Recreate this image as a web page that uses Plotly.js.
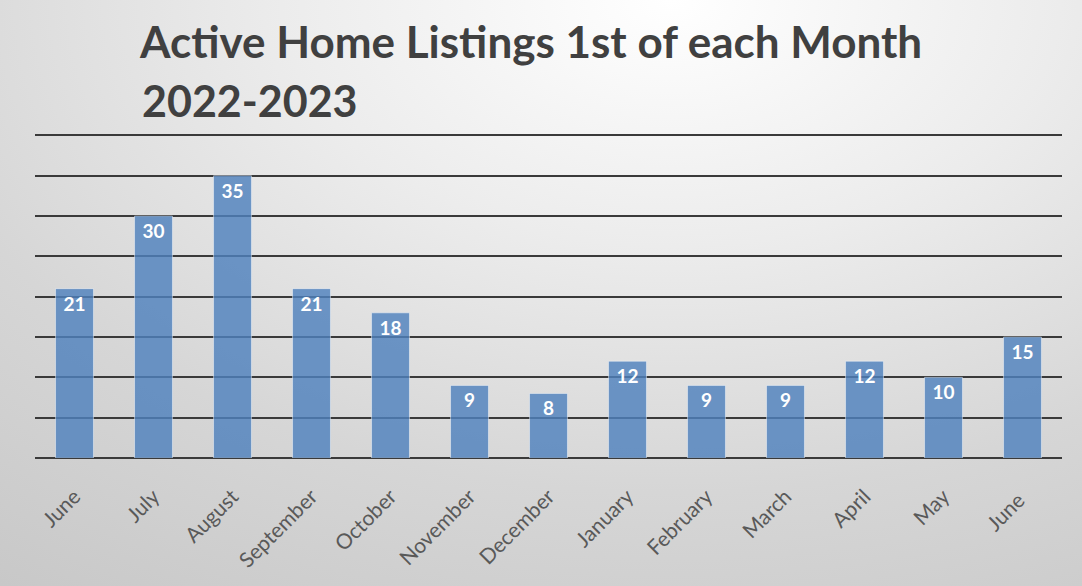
<!DOCTYPE html>
<html>
<head>
<meta charset="utf-8">
<script src="https://cdn.plot.ly/plotly-3.0.1.min.js"></script>
<style>
html,body{margin:0;padding:0;width:1082px;height:586px;overflow:hidden;}
body{background:radial-gradient(ellipse 120% 140% at 62% 0%, #ffffff 0%, #ececec 30%, #d6d6d6 60%, #c2c2c2 100%);}
#chart{width:1082px;height:586px;}
</style>
</head>
<body>
<div id="chart"></div>
<script>
const months = ["June","July","August","September","October","November","December","January","February","March","April","May","June "];
const listings = [21,30,35,21,18,9,8,12,9,9,12,10,15];
const titleLine1 = "Active Home Listings 1st of each Month";
const titleLine2 = "2022-2023";

const trace = {
  type: 'bar',
  x: months,
  y: listings,
  text: listings.map(String),
  textposition: 'inside',
  insidetextanchor: 'end',
  textangle: 0,
  textfont: {family: 'Lato, "Open Sans", sans-serif', size: 19, color: '#ffffff', weight: 'bold'},
  marker: {color: 'rgba(79,129,189,0.82)', line: {color: 'rgba(255,255,255,0.45)', width: 1}},
  hoverinfo: 'x+y'
};

const layout = {
  width: 1082, height: 586,
  paper_bgcolor: 'rgba(0,0,0,0)',
  plot_bgcolor: 'rgba(0,0,0,0)',
  margin: {l: 35, r: 20, t: 133, b: 128},
  bargap: 0.52,
  showlegend: false,
  title: {
    text: titleLine1,
    x: 140/1082, xanchor: 'left', xref: 'container',
    y: 1 - 58/586, yanchor: 'bottom', yref: 'container',
    font: {family: 'Lato, "Open Sans", sans-serif', size: 44, color: '#404040', weight: 'bold'}
  },
  annotations: [{
    text: titleLine2,
    xref: 'paper', yref: 'paper',
    x: (140-35)/1027, y: 1 + 5/325,
    xanchor: 'left', yanchor: 'bottom',
    showarrow: false,
    font: {family: 'Lato, "Open Sans", sans-serif', size: 43, color: '#404040', weight: 'bold'}
  }],
  xaxis: {
    type: 'category',
    tickangle: -45,
    tickfont: {family: 'Lato, "Open Sans", sans-serif', size: 21, color: '#595959'},
    showgrid: false, zeroline: false, showline: false,
    ticks: 'outside', ticklen: 17, tickcolor: 'rgba(0,0,0,0)'
  },
  yaxis: {
    range: [0, 40.3],
    tickvals: [0,5,10,15,20,25,30,35,40],
    showticklabels: false,
    showgrid: true, gridcolor: '#3a3a3a', gridwidth: 2,
    zeroline: true, zerolinecolor: '#3a3a3a', zerolinewidth: 2.5,
    showline: false, ticks: ''
  }
};

Plotly.newPlot('chart', [trace], layout, {displayModeBar: false, staticPlot: true});
</script>
</body>
</html>
